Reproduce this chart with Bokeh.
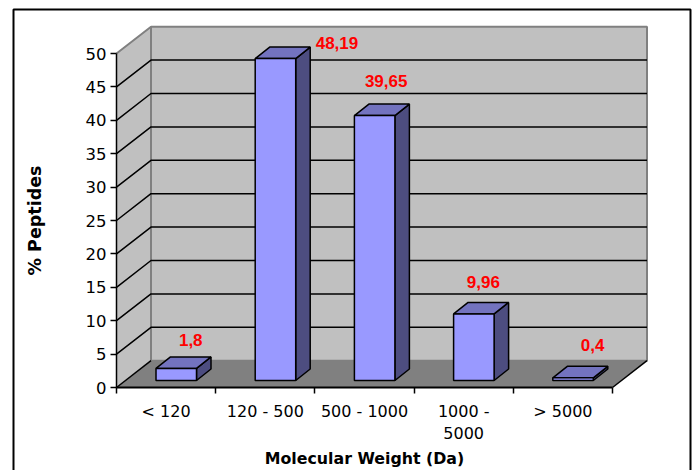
from bokeh.plotting import figure
from bokeh.models import FixedTicker
from bokeh.core.properties import value
from bokeh.embed import file_html
from bokeh.resources import INLINE

categories = ["< 120", "120 - 500", "500 - 1000", "1000 -\n5000", "> 5000"]
values = [1.8, 48.19, 39.65, 9.96, 0.4]
labels = ["1,8", "48,19", "39,65", "9,96", "0,4"]
y_ticks = [0, 5, 10, 15, 20, 25, 30, 35, 40, 45, 50]
x_label = "Molecular Weight (Da)"
y_label = "% Peptides"

W, H = 699, 470
PX = 99.2      # pixels per category
PY = 6.68      # pixels per unit
X0, Y0 = 116, 387   # picture position of the axes' origin
n = len(categories)
ymax = y_ticks[-1]

# 3-D depth, in data units
DX, DY = 34.5 / PX, 26.8 / PY
BAR_W = 40.5 / PX
BAR_OFF = 39.5 / PX
BAR_BASE = 1.05
BDX, BDY = 14.5 / PX, 11.5 / PY

def fx(px): return (px - X0) / PX
def fy(py): return (Y0 - py) / PY

p = figure(width=W, height=H, output_backend="svg", toolbar_location=None,
           x_range=(fx(0), fx(W)), y_range=(fy(H), fy(0)),
           min_border=0, background_fill_color="white", border_fill_color="white")
p.outline_line_color = None
p.grid.visible = False

GRAY = "#808080"
# side wall, back wall, floor
p.patch([0, DX, DX, 0], [0, DY, ymax + DY, ymax], fill_color="#C0C0C0", line_color=None)
p.patch([DX, n + DX, n + DX, DX], [DY, DY, ymax + DY, ymax + DY],
        fill_color="#C0C0C0", line_color=GRAY, line_width=2)
p.line([0, DX, DX], [ymax, ymax + DY, DY], line_color=GRAY, line_width=2)
p.patch([0, n, n + DX, DX], [0, 0, DY, DY], fill_color=GRAY, line_color=None)

# gridlines
grid = [t for t in y_ticks if 0 < t < ymax]
p.multi_line([[0, DX, n + DX] for t in grid], [[t, t + DY, t + DY] for t in grid],
             line_color="black", line_width=1.5)
p.multi_line([[0, DX], [n, n + DX]], [[0, DY], [0, DY]], line_color="black", line_width=1.5)

# bars
lefts = [i + BAR_OFF for i in range(n)]
rights = [l + BAR_W for l in lefts]
tops = [v + BAR_BASE for v in values]
p.patches([[r, r + BDX, r + BDX, r] for r in rights],
          [[BAR_BASE, BAR_BASE + BDY, t + BDY, t] for t in tops],
          fill_color="#4D4D80", line_color="black", line_width=1.5)
p.patches([[l, r, r + BDX, l + BDX] for l, r in zip(lefts, rights)],
          [[t, t, t + BDY, t + BDY] for t in tops],
          fill_color="#7373BF", line_color="black", line_width=1.5)
p.quad(left=lefts, right=rights, bottom=BAR_BASE, top=tops,
       fill_color="#9999FF", line_color="black", line_width=1.5)

# value labels
p.text([l + BAR_W / 2 + 14.5 / PX for l in lefts], [t + BDY for t in tops], text=labels,
       text_color="#FF0000", text_font=value("Liberation Sans"), text_font_style="bold",
       text_font_size="17px", text_align="center", text_baseline="bottom",
       x_offset=[0, 47, -3, -5, 5], y_offset=[-11, 2, -17, -14, -15])

# axes
ya = p.yaxis[0]
ya.fixed_location = 0
ya.bounds = (0, ymax)
ya.ticker = FixedTicker(ticks=y_ticks)
ya.minor_tick_line_color = None
ya.major_tick_in, ya.major_tick_out = 0, 6
ya.major_tick_line_width = 1.5
ya.major_tick_line_color = "black"
ya.axis_line_color = "black"
ya.axis_line_width = 1.5
ya.major_label_text_font = "DejaVu Sans"
ya.major_label_text_font_size = "16.5px"
ya.major_label_text_color = "black"
ya.major_label_standoff = 4
ya.axis_label = y_label
ya.axis_label_text_font = "DejaVu Sans"
ya.axis_label_text_font_style = "bold"
ya.axis_label_text_font_size = "17.5px"
ya.axis_label_text_color = "black"
ya.axis_label_standoff = 38

xa = p.xaxis[0]
xa.fixed_location = 0
xa.bounds = (0, n)
centers = [i + 0.5 for i in range(n)]
xa.ticker = FixedTicker(ticks=centers, minor_ticks=list(range(n + 1)))
xa.major_label_overrides = {c: t for c, t in zip(centers, categories)}
xa.major_tick_line_color = None
xa.minor_tick_in, xa.minor_tick_out = 0, 6
xa.minor_tick_line_width = 1.5
xa.minor_tick_line_color = "black"
xa.axis_line_color = "black"
xa.axis_line_width = 2
xa.major_label_text_font = "DejaVu Sans"
xa.major_label_text_font_size = "16px"
xa.major_label_text_color = "black"
xa.major_label_standoff = 8
xa.axis_label = x_label
xa.axis_label_text_font = "DejaVu Sans"
xa.axis_label_text_font_style = "bold"
xa.axis_label_text_font_size = "15.8px"
xa.axis_label_text_color = "black"
xa.axis_label_standoff = 3

# chart-area border
p.line([fx(13), fx(13), fx(690), fx(690)], [fy(H), fy(9), fy(9), fy(H)],
       line_color="black", line_width=2)

open("out.html", "w").write(file_html(p, INLINE))
